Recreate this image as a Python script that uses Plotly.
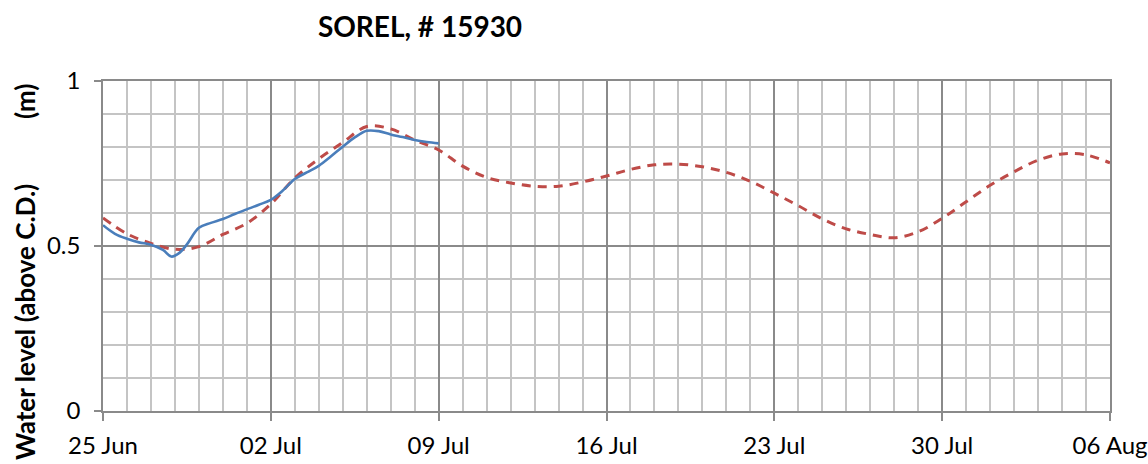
import datetime as dt
import plotly.graph_objects as go

# ---------------- data ----------------
start = dt.datetime(2013, 6, 25)

obs_days = [0, 0.5, 1, 1.5, 2, 2.5, 2.85, 3.2, 3.5, 4, 4.5, 5, 5.5, 6, 6.5, 7,
            7.5, 8, 8.5, 9, 9.5, 10, 10.5, 11, 11.5, 12, 12.5, 13, 13.5, 14]
obs_level = [0.563, 0.537, 0.522, 0.511, 0.504, 0.488, 0.468, 0.480, 0.505, 0.555,
             0.570, 0.582, 0.597, 0.611, 0.625, 0.640, 0.668, 0.703, 0.723, 0.743,
             0.771, 0.801, 0.829, 0.849, 0.848, 0.838, 0.830, 0.821, 0.815, 0.811]

pred_days = list(range(0, 43))
pred_level = [0.585, 0.537, 0.508, 0.490, 0.498, 0.535, 0.569, 0.627, 0.706, 0.764,
              0.814, 0.862, 0.855, 0.821, 0.791, 0.742, 0.708, 0.691, 0.681, 0.681,
              0.694, 0.712, 0.732, 0.746, 0.748, 0.740, 0.723, 0.696, 0.660, 0.622,
              0.582, 0.552, 0.535, 0.525, 0.543, 0.584, 0.634, 0.684, 0.725, 0.760,
              0.779, 0.776, 0.752]

title_text = "SOREL, # 15930"
y_title = "Water level (above C.D.)"
y_unit = "(m)"

obs_x = [start + dt.timedelta(days=d) for d in obs_days]
pred_x = [start + dt.timedelta(days=d) for d in pred_days]

FONT = "Lato"
MAJOR = "#8a8a8a"
MINOR = "#c4c4c4"

fig = go.Figure()
fig.add_trace(go.Scatter(x=pred_x, y=pred_level, mode="lines", name="Predicted",
                         line=dict(color="#be4b48", width=3, dash="9px,7px", shape="spline")))
fig.add_trace(go.Scatter(x=obs_x, y=obs_level, mode="lines", name="Observed",
                         line=dict(color="#4a7ebb", width=2.6, shape="spline")))

fig.update_layout(
    width=1148, height=464,
    margin=dict(l=103, r=38, t=81, b=53, autoexpand=False),
    paper_bgcolor="white", plot_bgcolor="white",
    showlegend=False,
    font=dict(family=FONT, size=24, color="black"),
    title=dict(text="<b>" + title_text + "</b>", x=420 / 1148, xref="container",
               xanchor="center", y=1 - 27 / 464, yref="container", yanchor="middle",
               font=dict(family=FONT, size=28, color="black")),
)

fig.update_xaxes(
    type="date", automargin=False,
    range=[start, start + dt.timedelta(days=42)],
    tick0=start, dtick=7 * 86400000, tickformat="%d %b",
    showgrid=True, gridcolor=MAJOR, gridwidth=1.6,
    minor=dict(dtick=86400000, tick0=start, showgrid=True, gridcolor=MINOR, gridwidth=1.8),
    showline=True, linecolor=MAJOR, linewidth=1.6, mirror=True,
    ticks="outside", ticklen=8, tickcolor=MAJOR, tickwidth=1.6,
    ticklabelstandoff=4,
    tickfont=dict(family=FONT, size=24, color="black"),
    zeroline=False,
)
fig.update_yaxes(
    range=[0, 1], dtick=0.5, tick0=0, automargin=False,
    showgrid=True, gridcolor=MAJOR, gridwidth=1.6,
    minor=dict(dtick=0.1, tick0=0, showgrid=True, gridcolor=MINOR, gridwidth=1.8),
    showline=True, linecolor=MAJOR, linewidth=1.6, mirror=True,
    ticks="outside", ticklen=7, tickcolor=MAJOR, tickwidth=1.6,
    ticklabelstandoff=9,
    tickfont=dict(family=FONT, size=24, color="black"),
    zeroline=False,
)

fig.add_annotation(text="<b>" + y_title + "</b>", xref="paper", yref="paper",
                   x=(25 - 103) / 1007, y=(411 - 322) / 330, textangle=-90,
                   showarrow=False, xanchor="center", yanchor="middle",
                   font=dict(family=FONT, size=26, color="black"))
fig.add_annotation(text="<b>" + y_unit + "</b>", xref="paper", yref="paper",
                   x=(25 - 103) / 1007, y=(411 - 101) / 330, textangle=-90,
                   showarrow=False, xanchor="center", yanchor="middle",
                   font=dict(family=FONT, size=26, color="black"))

fig.write_html("out.html", config={"displayModeBar": False},
               post_script="document.body.style.margin='0';")
